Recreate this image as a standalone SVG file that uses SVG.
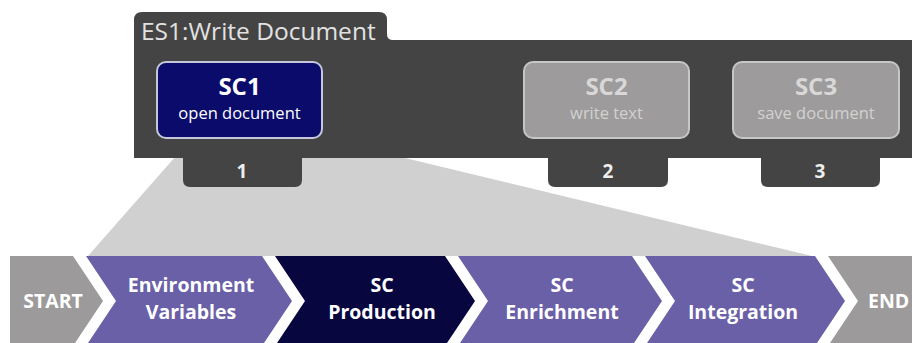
<svg xmlns="http://www.w3.org/2000/svg" width="912" height="343" viewBox="0 0 912 343">
  <style>
    text { font-family: "Open Sans", "Noto Sans", "Liberation Sans", sans-serif; text-anchor: middle; }
    .panel { fill: #444444; }
    .title { font-size: 24.5px; fill: #e2e2e2; text-anchor: start; }
    .box-on { fill: #0b0b6c; stroke: #c6c6dc; stroke-width: 2; }
    .box-off { fill: #9d9b9b; stroke: #c6c6c6; stroke-width: 2; }
    .sc-on { font-size: 24px; font-weight: bold; fill: #ffffff; }
    .sub-on { font-size: 16.5px; fill: #ffffff; }
    .sc-off { font-size: 24px; font-weight: bold; fill: #d8d8d8; }
    .sub-off { font-size: 16.5px; fill: #d2d2d2; }
    .num { font-size: 19px; font-weight: bold; fill: #eeeeee; }
    .wedge { fill: #d0d0d0; }
    .endcap { fill: #9c9a9a; }
    .phase { fill: #6a60a8; }
    .phase-on { fill: #07063f; }
    .step { font-size: 19.5px; font-weight: bold; fill: #ffffff; }
  </style>

  <rect width="912" height="343" fill="#ffffff"/>

  <!-- expansion wedge from step 1 down to the phase bar -->
  <g id="connectors">
    <polygon class="wedge" points="190,140 330,140 812,256 88,256"/>
  </g>

  <!-- scenario panel with title tab -->
  <g id="es1">
    <path class="panel" d="M134,158 L134,20 Q134,12 142,12 L379,12 Q387,12 387,20 L387,34 Q387,40 393,40 L912,40 L912,158 Z"/>
    <text class="title" x="141" y="40">ES1:Write Document</text>
  </g>

  <!-- step tabs under the panel -->
  <g id="tab1">
    <path class="panel" d="M183,150 L302,150 L302,180 Q302,187 295,187 L190,187 Q183,187 183,180 Z"/>
    <text class="num" x="242" y="178">1</text>
  </g>
  <g id="tab2">
    <path class="panel" d="M548,150 L668,150 L668,180 Q668,187 661,187 L555,187 Q548,187 548,180 Z"/>
    <text class="num" x="608" y="178">2</text>
  </g>
  <g id="tab3">
    <path class="panel" d="M761,150 L880,150 L880,180 Q880,187 873,187 L768,187 Q761,187 761,180 Z"/>
    <text class="num" x="820" y="178">3</text>
  </g>

  <!-- scenario steps -->
  <g id="sc1">
    <rect class="box-on" x="157" y="62" width="165" height="76" rx="9"/>
    <text class="sc-on" x="239.5" y="95">SC1</text>
    <text class="sub-on" x="239.5" y="119">open document</text>
  </g>
  <g id="sc2">
    <rect class="box-off" x="524" y="62" width="165" height="76" rx="9"/>
    <text class="sc-off" x="606.5" y="95">SC2</text>
    <text class="sub-off" x="606.5" y="119">write text</text>
  </g>
  <g id="sc3">
    <rect class="box-off" x="733" y="62" width="166" height="76" rx="9"/>
    <text class="sc-off" x="816" y="95">SC3</text>
    <text class="sub-off" x="816" y="119">save document</text>
  </g>

  <!-- phase bar -->
  <g id="start">
    <polygon class="endcap" points="10,256 73,256 103,301 73,346 10,346"/>
    <text class="step" x="53" y="308">START</text>
  </g>
  <g id="env">
    <polygon class="phase" points="86,256 262,256 292,301 262,346 86,346 116,301"/>
    <text class="step" x="191" y="292">Environment</text>
    <text class="step" x="191" y="319">Variables</text>
  </g>
  <g id="production">
    <polygon class="phase-on" points="275,256 445,256 475,301 445,346 275,346 305,301"/>
    <text class="step" x="382" y="292">SC</text>
    <text class="step" x="382" y="319">Production</text>
  </g>
  <g id="enrichment">
    <polygon class="phase" points="458,256 632,256 662,301 632,346 458,346 488,301"/>
    <text class="step" x="562" y="292">SC</text>
    <text class="step" x="562" y="319">Enrichment</text>
  </g>
  <g id="integration">
    <polygon class="phase" points="645,256 815,256 845,301 815,346 645,346 675,301"/>
    <text class="step" x="743" y="292">SC</text>
    <text class="step" x="743" y="319">Integration</text>
  </g>
  <g id="end">
    <polygon class="endcap" points="828,256 912,256 912,346 828,346 858,301"/>
    <text class="step" x="868" y="308" style="text-anchor:start">END</text>
  </g>
</svg>
